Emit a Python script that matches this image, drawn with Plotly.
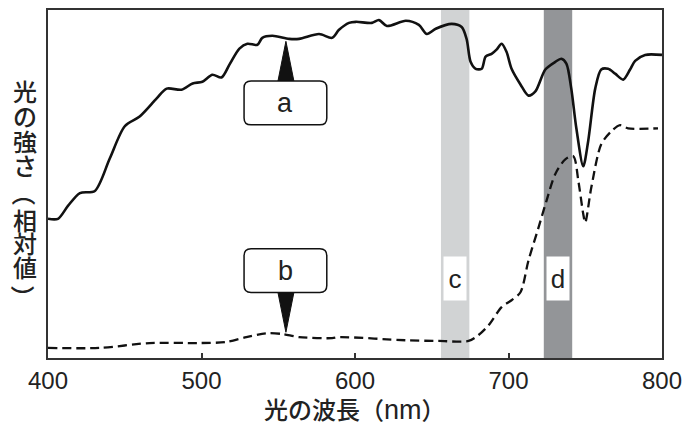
import plotly.graph_objects as go

# ---- data (wavelength nm, relative intensity 0-100) ----
wl_a = [400, 406.5, 413, 420.8, 430.5, 440.3, 450, 459.7, 470.8, 477.3, 487, 494.2,
        500.6, 507.1, 513, 518.2, 524.7, 529.9, 536.4, 539.6, 546.1, 557.1, 563.6,
        576.6, 585.1, 589.6, 596.1, 600.6, 611, 615.6, 620.8, 633.1, 641.6, 646.8,
        652.6, 663, 669.5, 672.7, 675.3, 678.6, 682.5, 685.1, 689, 692.2, 695.5,
        698.7, 702, 707.8, 713, 717.5, 724, 730.5, 734.4, 737.7, 740.9, 744.2,
        748.7, 751.9, 756.5, 760.4, 764.9, 769.5, 774.7, 779.2, 782.5, 789, 800]
int_a = [40.0, 40.0, 43.7, 47.4, 48.0, 57.4, 66.6, 69.4, 74.6, 77.4, 77.1, 78.9,
         79.4, 81.4, 80.6, 84.3, 88.9, 90.3, 90.0, 92.0, 92.6, 91.7, 91.7,
         93.1, 92.0, 94.3, 96.3, 96.6, 96.3, 97.1, 95.4, 96.9, 95.7, 93.1,
         94.6, 96.0, 95.1, 91.7, 85.1, 83.1, 83.1, 86.6, 87.4, 88.6, 90.3,
         88.0, 83.1, 78.6, 75.4, 76.6, 82.9, 85.1, 86.0, 84.6, 77.4, 66.0,
         55.1, 62.3, 77.4, 82.9, 83.1, 81.7, 80.0, 82.9, 85.4, 87.1, 87.1]

wl_b = [400, 433.8, 466.2, 498.7, 516.2, 529.2, 542.2, 552.6, 563.6, 585.1, 589.6,
        633.1, 654.5, 674, 680.5, 687, 695.5, 702, 707.8, 713, 719.5, 724.7,
        730.5, 737, 742.2, 745.5, 748.7, 750, 753.9, 760.4, 766.9, 772.7, 777.9, 797.4]
int_b = [2.9, 2.9, 4.3, 4.3, 4.6, 6.0, 7.1, 6.9, 6.0, 5.7, 6.0,
         5.1, 4.9, 4.9, 6.6, 9.4, 14.6, 16.6, 18.9, 28.0, 37.4, 45.1,
         52.9, 57.1, 58.0, 50.9, 41.4, 38.9, 48.9, 61.4, 65.1, 66.9, 66.0, 66.0]

x_ticks = [400, 500, 600, 700, 800]
band_labels = ["c", "d"]
band_ranges = [(656, 674.5), (723, 741.5)]
band_colors = ["#d1d3d4", "#939598"]
callout_labels = ["a", "b"]
callout_wl = [555, 555]

x_title = "光の波長（<span style='font-family:Liberation Sans;font-size:27px'>nm</span>）"
y_title_chars = ["光", "の", "強", "さ", "（", "相", "対", "値", "）"]

# ---- geometry helpers (plot area 616 x 350 px) ----
X0, X1, Y0, Y1 = 400, 800, 0, 100
PW, PH = 616, 350
dx = lambda px: px * (X1 - X0) / PW
dy = lambda px: px * (Y1 - Y0) / PH

fig = go.Figure()

# bands
for lab, (a0, a1), col in zip(band_labels, band_ranges, band_colors):
    fig.add_shape(type="rect", xref="x", yref="paper", x0=a0, x1=a1, y0=0, y1=1,
                  fillcolor=col, line_width=0, layer="below")
    fig.add_annotation(x=(a0 + a1) / 2, y=(358 - 278) / PH, xref="x", yref="paper",
                       text=lab, showarrow=False, bgcolor="white", width=22, height=43,
                       borderpad=0, xanchor="center", yanchor="middle",
                       font=dict(size=26, family="Liberation Sans", color="#222"))

fig.add_trace(go.Scatter(x=wl_a, y=int_a, mode="lines",
                         line=dict(color="#111", width=2.6, shape="spline", smoothing=0.8),
                         hoverinfo="skip"))
fig.add_trace(go.Scatter(x=wl_b, y=int_b, mode="lines",
                         line=dict(color="#111", width=2.3, dash="9px,5px", shape="spline", smoothing=0.8),
                         hoverinfo="skip"))


def rounded_rect(xc, yc, hw, hh, r):
    x0, x1 = xc - dx(hw), xc + dx(hw)
    y0, y1 = yc - dy(hh), yc + dy(hh)
    rx, ry = dx(r), dy(r)
    return (f"M{x0+rx},{y0} L{x1-rx},{y0} Q{x1},{y0} {x1},{y0+ry} L{x1},{y1-ry} "
            f"Q{x1},{y1} {x1-rx},{y1} L{x0+rx},{y1} Q{x0},{y1} {x0},{y1-ry} "
            f"L{x0},{y0+ry} Q{x0},{y0} {x0+rx},{y0} Z")


# callout a (below curve, pointing up), callout b (above curve, pointing down)
for lab, wl, up in zip(callout_labels, callout_wl, [True, False]):
    if up:
        tip = 91.0
        base = tip - dy(40)
        yc = base - dy(22)
    else:
        tip = 7.4
        base = tip + dy(40)
        yc = base + dy(22)
    fig.add_shape(type="path", path=f"M{wl - dx(8)},{base} L{wl},{tip} L{wl + dx(8)},{base} Z",
                  fillcolor="#111", line=dict(color="#111", width=1), xref="x", yref="y")
    fig.add_shape(type="path", path=rounded_rect(wl - dx(0.5), yc, 41.5, 22, 7),
                  fillcolor="white", line=dict(color="#111", width=1.5), xref="x", yref="y")
    fig.add_annotation(x=wl - dx(0.5), y=yc, text=lab, showarrow=False,
                       xanchor="center", yanchor="middle",
                       font=dict(size=27, family="Liberation Sans", color="#222"))

# vertical y title (parentheses rotated to vertical form)
y_centers = [89, 114, 139, 163, 193, 219, 242, 266, 297]
for ch, yc in zip(y_title_chars, y_centers):
    rot = 90 if ch in ("（", "）") else 0
    fig.add_annotation(x=(25 - 48) / PW, y=(358 - yc) / PH, xref="paper", yref="paper",
                       text=ch, showarrow=False, xanchor="center", yanchor="middle",
                       textangle=rot,
                       font=dict(size=24, family="Noto Sans CJK JP", color="#222", weight=500))

fig.add_annotation(x=(356 - 48) / PW, y=(358 - 409) / PH, xref="paper", yref="paper",
                   text=x_title, showarrow=False, xanchor="center", yanchor="middle",
                   font=dict(size=24, family="Noto Sans CJK JP", color="#222", weight=500))

fig.update_layout(
    width=690, height=427, margin=dict(l=48, r=26, t=8, b=69),
    plot_bgcolor="white", paper_bgcolor="white", showlegend=False,
    xaxis=dict(range=[X0, X1], tickvals=x_ticks, ticks="inside", ticklen=5, tickwidth=1.5,
               tickcolor="#333", showline=True, linecolor="#333", linewidth=1.5, mirror=True,
               showgrid=False, zeroline=False,
               tickfont=dict(size=24, family="Liberation Sans", color="#222")),
    yaxis=dict(range=[Y0, Y1], showticklabels=False, ticks="", showline=True, linecolor="#333",
               linewidth=1.5, mirror=True, showgrid=False, zeroline=False),
)

fig.write_html("out.html", config={"displayModeBar": False},
               post_script="document.body.style.margin='0';document.body.style.overflow='hidden';")
